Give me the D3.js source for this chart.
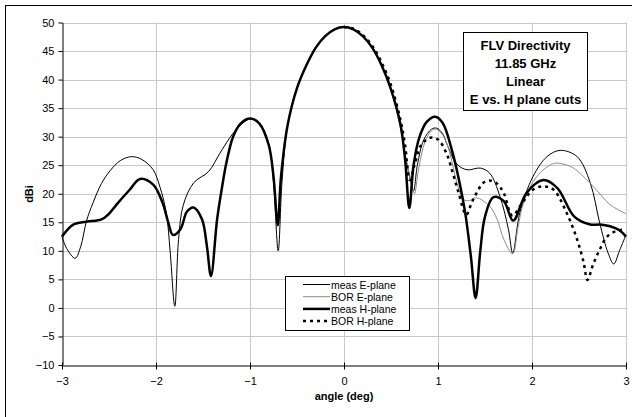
<!DOCTYPE html>
<html>
<head>
<meta charset="utf-8">
<script src="https://cdn.jsdelivr.net/npm/d3@7"></script>
<style>
  body { margin: 0; background: #fff; }
  svg { display: block; font-family: "Liberation Sans", Arial, sans-serif; }
</style>
</head>
<body>
<svg id="chart" width="632" height="417"></svg>
<script>
// valeurs (angle en deg, directivité en dBi)
var xTicks = [-3, -2, -1, 0, 1, 2, 3];
var yTicks = [-10, -5, 0, 5, 10, 15, 20, 25, 30, 35, 40, 45, 50];

var measE = [
  [-3, 12.5], [-2.95, 10.4], [-2.86, 8.7], [-2.8, 10.8], [-2.74, 15.2], [-2.67, 18.4],
  [-2.58, 21.8], [-2.49, 24], [-2.38, 25.8], [-2.26, 26.5], [-2.15, 26], [-2.03, 24.2],
  [-1.96, 21.3], [-1.89, 16.6], [-1.85, 10], [-1.8, 0.3], [-1.76, 12], [-1.71, 18],
  [-1.6, 21.9], [-1.44, 23.9], [-1.32, 27.1], [-1.18, 30.6], [-1.06, 32.6], [-0.98, 33.2],
  [-0.9, 32.4], [-0.8, 28.7], [-0.75, 22], [-0.7, 10], [-0.66, 22], [-0.6, 32],
  [-0.5, 38.5], [-0.4, 42.5], [-0.3, 45.6], [-0.2, 47.6], [-0.1, 48.8], [0, 49.2],
  [0.1, 48.8], [0.2, 47.6], [0.3, 45.6], [0.4, 42.5], [0.5, 38.3], [0.6, 32],
  [0.66, 26], [0.7, 23], [0.74, 20.5], [0.78, 25], [0.85, 29.5], [0.93, 31.3],
  [0.985, 31.5], [1.05, 30.5], [1.1, 28.5], [1.2, 25.2], [1.31, 24.2], [1.45, 24.5],
  [1.55, 23.6], [1.66, 19.5], [1.75, 13.7], [1.795, 9.6], [1.87, 16.6], [2.01, 23],
  [2.16, 26.5], [2.3, 27.6], [2.48, 26.5], [2.62, 21.9], [2.72, 14.9], [2.81, 9.6],
  [2.87, 7.7], [2.93, 10], [3, 12.8]
];

var borE = [
  [0, 49.2], [0.1, 48.8], [0.2, 47.6], [0.3, 45.6], [0.4, 42.4], [0.5, 38.2],
  [0.6, 31.5], [0.66, 26], [0.71, 22.5], [0.75, 20], [0.79, 24], [0.86, 29],
  [0.93, 31], [0.98, 31.3], [1.05, 30.3], [1.12, 27.5], [1.2, 22], [1.27, 19],
  [1.33, 18.8], [1.41, 19.3], [1.55, 17.8], [1.63, 15.5], [1.7, 12], [1.795, 9.5],
  [1.85, 14], [1.91, 18.4], [2.05, 23], [2.23, 25.3], [2.33, 25.2], [2.44, 24.5],
  [2.65, 21.3], [2.83, 18.1], [3, 16.5]
];

var measH = [
  [-3, 12.5], [-2.88, 14.6], [-2.74, 15.1], [-2.58, 15.5], [-2.5, 16.5], [-2.42, 18.1],
  [-2.28, 20.7], [-2.17, 22.6], [-2.03, 21.6], [-1.93, 18.4], [-1.87, 15], [-1.82, 12.8],
  [-1.74, 13.8], [-1.67, 16.9], [-1.6, 17.6], [-1.51, 15.5], [-1.46, 11], [-1.415, 5.6],
  [-1.35, 15.5], [-1.3, 20.9], [-1.25, 25.5], [-1.18, 30], [-1.1, 32.3], [-1.0, 33.2],
  [-0.9, 32.3], [-0.8, 28.5], [-0.75, 23], [-0.705, 14.5], [-0.67, 23], [-0.6, 32],
  [-0.5, 38.5], [-0.4, 42.5], [-0.3, 45.6], [-0.2, 47.6], [-0.1, 48.8], [0, 49.2],
  [0.1, 48.8], [0.2, 47.6], [0.3, 45.6], [0.4, 42.5], [0.5, 38.3], [0.6, 32.2],
  [0.65, 26], [0.695, 17.5], [0.74, 25], [0.8, 29.8], [0.88, 32.6], [0.97, 33.5],
  [1.05, 32.4], [1.15, 27.5], [1.23, 21.9], [1.29, 16.6], [1.35, 9], [1.4, 1.7],
  [1.45, 10], [1.5, 16], [1.59, 19.4], [1.7, 18.7], [1.8, 15.3], [1.94, 20.1],
  [2.12, 22.4], [2.27, 21], [2.45, 16], [2.62, 14.6], [2.72, 14.6], [2.83, 14.3],
  [2.93, 13.6], [3, 12.5]
];

var borH = [
  [0, 49.2], [0.1, 48.9], [0.2, 47.8], [0.3, 45.9], [0.4, 43], [0.5, 39],
  [0.6, 33], [0.65, 28.5], [0.7, 22.4], [0.75, 25], [0.82, 28.5], [0.915, 29.8],
  [1.0, 29.5], [1.09, 27.1], [1.16, 23.5], [1.22, 20.1], [1.3, 16.3], [1.36, 18.5],
  [1.41, 20.1], [1.48, 21.9], [1.55, 22.3], [1.62, 21.9], [1.7, 20.1], [1.79, 16.2],
  [1.91, 18.7], [2.01, 20.7], [2.12, 21.3], [2.23, 20.7], [2.37, 16.6], [2.48, 12],
  [2.55, 7.9], [2.59, 4.9], [2.65, 7.6], [2.72, 10.2], [2.8, 12.5], [2.9, 13.5],
  [3, 13.8]
];

var titleLines = ["FLV Directivity", "11.85 GHz", "Linear", "E vs. H plane cuts"];

var series = [
  { name: "meas E-plane", data: measE, color: "#000", width: 1, dash: null },
  { name: "BOR E-plane", data: borE, color: "#8c8c8c", width: 1, dash: null },
  { name: "meas H-plane", data: measH, color: "#000", width: 2.5, dash: null },
  { name: "BOR H-plane", data: borH, color: "#000", width: 2.5, dash: "3,4" }
];

var svg = d3.select("#chart");

// cadre extérieur (coupé à droite et en bas comme sur l'original)
svg.append("rect")
  .attr("x", 5.5).attr("y", 5.5)
  .attr("width", 700).attr("height", 500)
  .attr("fill", "#fff").attr("stroke", "#000");

var x = d3.scaleLinear().domain([-3, 3]).range([62, 626]);
var y = d3.scaleLinear().domain([-10, 50]).range([365, 22.5]);

// grille
var grid = svg.append("g").attr("stroke", "#c8c8c8").attr("stroke-width", 1);
grid.selectAll("line.h")
  .data(yTicks.filter(d => d > -10))
  .join("line")
  .attr("class", "h")
  .attr("x1", x(-3)).attr("x2", x(3))
  .attr("y1", d => Math.round(y(d)) + 0.5).attr("y2", d => Math.round(y(d)) + 0.5);
grid.selectAll("line.v")
  .data(xTicks.filter(d => d > -3))
  .join("line")
  .attr("class", "v")
  .attr("y1", y(-10)).attr("y2", y(50))
  .attr("x1", d => Math.round(x(d)) + 0.5).attr("x2", d => Math.round(x(d)) + 0.5);

// axes
var yAxis = svg.append("g")
  .attr("transform", "translate(62.5,0)")
  .call(d3.axisLeft(y).tickValues(yTicks).tickSize(4).tickSizeOuter(0).tickPadding(4));
var xAxis = svg.append("g")
  .attr("transform", "translate(0,365.5)")
  .call(d3.axisBottom(x).tickValues(xTicks).tickSize(4).tickSizeOuter(0).tickPadding(8)
    .tickFormat(d3.format("d")));

[yAxis, xAxis].forEach(a => {
  a.attr("font-family", "Liberation Sans, Arial, sans-serif").attr("font-size", 11);
  a.selectAll("text").attr("fill", "#000");
  a.selectAll("line, path").attr("stroke", "#000");
});
xAxis.selectAll(".tick line").attr("y1", -3);

// courbes
var line = d3.line()
  .x(d => x(d[0]))
  .y(d => y(d[1]))
  .curve(d3.curveCatmullRom.alpha(0.5));

svg.append("g")
  .selectAll("path")
  .data(series)
  .join("path")
  .attr("fill", "none")
  .attr("stroke", d => d.color)
  .attr("stroke-width", d => d.width)
  .attr("stroke-dasharray", d => d.dash)
  .attr("stroke-linejoin", "round")
  .attr("d", d => line(d.data));

// titres des axes
svg.append("text")
  .attr("x", 344).attr("y", 400)
  .attr("text-anchor", "middle")
  .attr("font-size", 11).attr("font-weight", "bold")
  .text("angle (deg)");
svg.append("text")
  .attr("transform", "translate(33,194) rotate(-90)")
  .attr("text-anchor", "middle")
  .attr("font-size", 11).attr("font-weight", "bold")
  .text("dBi");

// boîte de titre
svg.append("rect")
  .attr("x", 463.5).attr("y", 32.5)
  .attr("width", 124).attr("height", 78)
  .attr("fill", "#fff").attr("stroke", "#000");
svg.append("g")
  .selectAll("text")
  .data(titleLines)
  .join("text")
  .attr("x", 525.5)
  .attr("y", (d, i) => 49.5 + i * 18)
  .attr("text-anchor", "middle")
  .attr("font-size", 13).attr("font-weight", "bold")
  .text(d => d);

// légende
var legend = svg.append("g");
legend.append("rect")
  .attr("x", 285.5).attr("y", 276.5)
  .attr("width", 124).attr("height", 54)
  .attr("fill", "#fff").attr("stroke", "#000");
var items = legend.selectAll("g")
  .data(series)
  .join("g")
  .attr("transform", (d, i) => `translate(0,${284.5 + i * 12.2})`);
items.append("line")
  .attr("x1", 303).attr("x2", 330)
  .attr("stroke", d => d.color)
  .attr("stroke-width", d => d.width)
  .attr("stroke-dasharray", d => d.dash);
items.append("text")
  .attr("x", 331).attr("y", 4)
  .attr("font-size", 10.5)
  .text(d => d.name);
</script>
</body>
</html>
